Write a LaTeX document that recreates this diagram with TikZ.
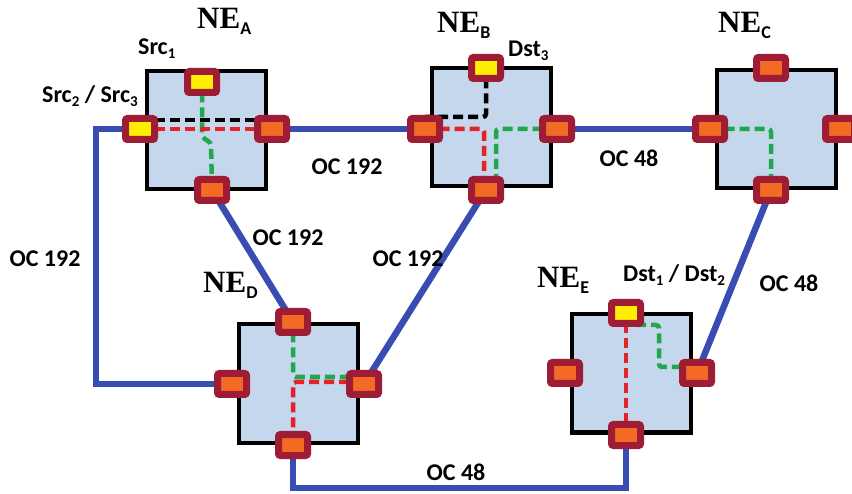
\documentclass[tikz,border=0pt]{standalone}
\usepackage{fontspec}
\setmainfont{Carlito}
\newfontfamily\nefont{Liberation Serif}

\definecolor{boxblue}{RGB}{197,215,236}
\definecolor{portred}{RGB}{158,28,52}
\definecolor{portorange}{RGB}{242,106,36}
\definecolor{portyellow}{RGB}{255,238,0}
\definecolor{linkblue}{RGB}{56,76,178}
\definecolor{pathredc}{RGB}{226,36,40}
\definecolor{pathgreenc}{RGB}{32,168,76}

\pgfdeclarelayer{boxes}
\pgfdeclarelayer{links}
\pgfsetlayers{boxes,links,main}

\newcommand{\nename}[1]{{\nefont\bfseries NE}\raisebox{-6pt}{\fontsize{18}{20}\selectfont\bfseries #1}}
\newcommand{\idx}[1]{\raisebox{-4pt}{\fontsize{15}{18}\selectfont #1}}

\tikzset{
  nebox/.style={draw=black, line width=4pt, fill=boxblue, minimum width=119pt,
                minimum height=118pt, inner sep=0pt, outer sep=0pt},
  port/.style={draw=portred, fill=portorange, line width=7pt, rounded corners=2pt,
               minimum width=29pt, minimum height=21pt, inner sep=0pt, outer sep=0pt},
  srcport/.style={port, fill=portyellow},
  link/.style={draw=linkblue, line width=6.5pt},
  lightpath/.style={line width=4.5pt, dash pattern=on 10pt off 5pt, rounded corners=3pt},
  pathblack/.style={lightpath, draw=black},
  pathred/.style={lightpath, draw=pathredc},
  pathgreen/.style={lightpath, draw=pathgreenc},
  lbl/.style={font=\fontsize{24}{28}\selectfont\bfseries, inner sep=0pt},
  nelbl/.style={font=\fontsize{31}{36}\selectfont, inner sep=0pt, anchor=base west}
}

\begin{document}
\begin{tikzpicture}[x=1pt, y=-1pt]
  \useasboundingbox (0,0) rectangle (852,494);

  % --- network elements ---------------------------------------------
  \begin{pgfonlayer}{boxes}
    \fill[white] (0,0) rectangle (852,494);
    \node[nebox] (neA) at (206.5,130) {};
    \node[nebox] (neB) at (491.5,127.5) {};
    \node[nebox] (neC) at (776,129) {};
    \node[nebox] (neD) at (298.5,383.5) {};
    \node[nebox] (neE) at (631.5,373.5) {};
  \end{pgfonlayer}

  % --- ports (yellow = add/drop) -------------------------------------
  \node[srcport] (aTop)   at (202,82)  {};
  \node[srcport] (aLeft)  at (140,129) {};
  \node[port]    (aRight) at (272,129) {};
  \node[port]    (aBot)   at (212,190) {};

  \node[srcport] (bTop)   at (486,68)  {};
  \node[port]    (bLeft)  at (425,129) {};
  \node[port]    (bRight) at (557,129) {};
  \node[port]    (bBot)   at (486,190) {};

  \node[port]    (cTop)   at (771,68)  {};
  \node[port]    (cLeft)  at (710,129) {};
  \node[port]    (cRight) at (840,129) {};
  \node[port]    (cBot)   at (771,190) {};

  \node[port]    (dTop)   at (293,322) {};
  \node[port]    (dLeft)  at (232,384) {};
  \node[port]    (dRight) at (364,384) {};
  \node[port]    (dBot)   at (293,445) {};

  \node[srcport] (eTop)   at (626,313) {};
  \node[port]    (eLeft)  at (565,373) {};
  \node[port]    (eRight) at (697,373) {};
  \node[port]    (eBot)   at (626,435) {};

  \begin{pgfonlayer}{links}
    % Fibre links between the elements
    \draw[link] (aLeft) -- ++(-44,0) |- (dLeft);
    \draw[link] (aRight) -- (bLeft);
    \draw[link] (aBot) -- (dTop);
    \draw[link] (dRight) -- (bBot);
    \draw[link] (bRight) -- (cLeft);
    \draw[link] (cBot) -- (eRight);
    \draw[link] (dBot) -- ++(0,43) -| (eBot);

    % Lightpaths through each element
    \draw[pathgreen] (aTop) -- ++(0,55) -- ++(9,6) -- (aBot);
    \draw[pathblack] ([yshift=9pt]aLeft.center) -- ([yshift=9pt]aRight.center);
    \draw[pathred] (aLeft) -- (aRight);

    \draw[pathblack] (bTop) |- ([yshift=12pt]bLeft.center);
    \draw[pathred] (bLeft) -| ([xshift=-2pt]bBot.center);
    \draw[pathgreen] (bRight) -| ([xshift=10pt]bBot.center);

    \draw[pathgreen] (cLeft) -| (cBot);

    \draw[pathgreen] (dTop) |- ([yshift=7pt]dRight.center);
    \draw[pathred] ([yshift=2pt]dRight.center) -| (dBot);

    \draw[pathgreen] ([xshift=10pt,yshift=-12pt]eTop.center)
      -| ([xshift=-38pt,yshift=6pt]eRight.center) -- ([yshift=6pt]eRight.center);
    \draw[pathred] (eTop) -- (eBot);
  \end{pgfonlayer}

  % --- labels ---------------------------------------------------------
  \node[nelbl] (nameA) at (197,29)  {\nename{A}};
  \node[nelbl] (nameB) at (437,33)  {\nename{B}};
  \node[nelbl] (nameC) at (718,33)  {\nename{C}};
  \node[nelbl] (nameD) at (203,293) {\nename{D}};
  \node[nelbl] (nameE) at (537,288) {\nename{E}};

  \node[lbl, anchor=base west] (src1)  at (138,55)  {Src\idx{1}};
  \node[lbl, anchor=base west] (src23) at (42,103)  {Src\idx{2} / Src\idx{3}};
  \node[lbl, anchor=base west] (dst3)  at (508,57)  {Dst\idx{3}};
  \node[lbl, anchor=base west] (dst12) at (623,282) {Dst\idx{1} / Dst\idx{2}};

  \node[lbl] (ocAB) at (347,167) {OC 192};
  \node[lbl] (ocBC) at (629,158) {OC 48};
  \node[lbl] (ocAD) at (288,238) {OC 192};
  \node[lbl] (ocDB) at (408,259) {OC 192};
  \node[lbl] (ocLf) at (45,259)  {OC 192};
  \node[lbl] (ocCE) at (789,283) {OC 48};
  \node[lbl] (ocDE) at (456,472) {OC 48};
\end{tikzpicture}
\end{document}
